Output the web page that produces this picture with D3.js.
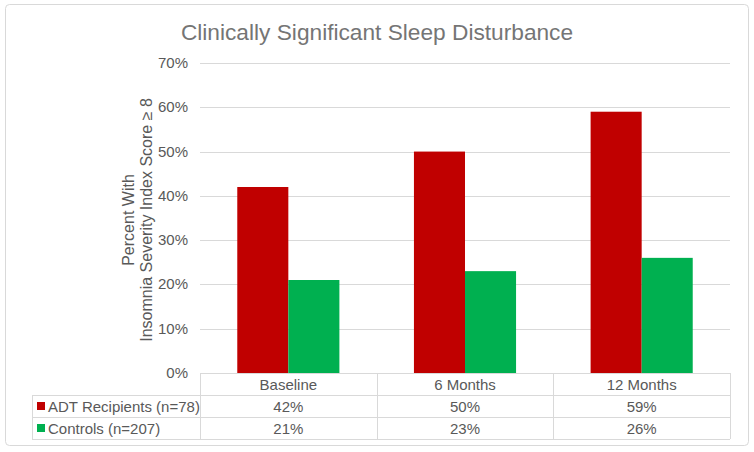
<!DOCTYPE html>
<html><head><meta charset="utf-8">
<script src="https://cdn.jsdelivr.net/npm/d3@7"></script>
<style>body{margin:0;background:#fff}text{font-family:Arial,"Liberation Sans",sans-serif}</style>
</head><body><svg id="c" width="754" height="452"></svg>
<script>
const categories = ["Baseline", "6 Months", "12 Months"];
const seriesNames = ["ADT Recipients (n=78)", "Controls (n=207)"];
const adtValues = [42, 50, 59];
const controlValues = [21, 23, 26];
const yTicks = [0, 10, 20, 30, 40, 50, 60, 70];
const colors = ["#c00000", "#00b050"];
const series = [adtValues, controlValues];

const svg = d3.select("#c");
const txt = "#595959", grid = "#d9d9d9";
svg.append("rect").attr("x",5.5).attr("y",4.5).attr("width",743).attr("height",441).attr("rx",4)
  .attr("fill","#fff").attr("stroke","#d9d9d9");

svg.append("text").attr("x",377).attr("y",40).attr("text-anchor","middle")
  .attr("font-size",22.7).attr("fill","#757575").text("Clinically Significant Sleep Disturbance");

const x0 = 200, x1 = 730;
const y = d3.scaleLinear().domain([0,70]).range([373,63]);
const x = d3.scaleBand().domain(categories).range([x0,x1]);
const xs = d3.scaleBand().domain([0,1]).range([0,x.bandwidth()]).paddingOuter(0.73).paddingInner(0);

// gridlines
svg.append("g").selectAll("line").data(yTicks).join("line")
  .attr("x1",x0).attr("x2",x1).attr("y1",d=>Math.round(y(d))+0.5).attr("y2",d=>Math.round(y(d))+0.5)
  .attr("stroke",grid).attr("stroke-width",1);
svg.append("g").selectAll("text").data(yTicks).join("text")
  .attr("x",188).attr("y",d=>y(d)+5).attr("text-anchor","end").attr("font-size",15).attr("fill",txt)
  .text(d=>d+"%");

// bars
series.forEach((vals,si)=>{
  svg.append("g").selectAll("rect").data(vals).join("rect")
    .attr("x",(d,i)=>x(categories[i])+xs(si)).attr("width",xs.bandwidth())
    .attr("y",d=>y(d)).attr("height",d=>y(0)-y(d)).attr("fill",colors[si]);
});

// y axis label
const yl = svg.append("text").attr("transform","translate(0,220) rotate(-90)")
  .attr("text-anchor","middle").attr("font-size",16).attr("fill",txt);
yl.append("tspan").attr("x",0).attr("y",134).text("Percent With");
yl.append("tspan").attr("x",0).attr("y",152).text("Insomnia Severity Index Score \u2265 8");

// data table
const rowY = [373, 395, 417, 439];
const tl = svg.append("g").attr("stroke",grid).attr("stroke-width",1).attr("fill","none");
tl.append("line").attr("x1",x0).attr("x2",x1).attr("y1",rowY[0]+0.5).attr("y2",rowY[0]+0.5);
[1,2,3].forEach(i=>tl.append("line").attr("x1",32).attr("x2",x1).attr("y1",rowY[i]+0.5).attr("y2",rowY[i]+0.5));
tl.append("line").attr("x1",32.5).attr("x2",32.5).attr("y1",rowY[1]).attr("y2",rowY[3]);
[x0, ...categories.map(c=>x(c)+x.bandwidth())].forEach(v=>
  tl.append("line").attr("x1",Math.round(v)+0.5).attr("x2",Math.round(v)+0.5).attr("y1",rowY[0]).attr("y2",rowY[3]));

svg.append("g").selectAll("text").data(categories).join("text")
  .attr("x",d=>x(d)+x.bandwidth()/2).attr("y",rowY[0]+17).attr("text-anchor","middle")
  .attr("font-size",15).attr("fill",txt).text(d=>d);
series.forEach((vals,si)=>{
  svg.append("g").selectAll("text").data(vals).join("text")
    .attr("x",(d,i)=>x(categories[i])+x.bandwidth()/2).attr("y",rowY[si+1]+17).attr("text-anchor","middle")
    .attr("font-size",15).attr("fill",txt).text(d=>d+"%");
  svg.append("rect").attr("x",37).attr("y",rowY[si+1]+7).attr("width",8).attr("height",8).attr("fill",colors[si]);
  svg.append("text").attr("x",48).attr("y",rowY[si+1]+17).attr("font-size",15).attr("fill",txt).text(seriesNames[si]);
});
</script></body></html>
